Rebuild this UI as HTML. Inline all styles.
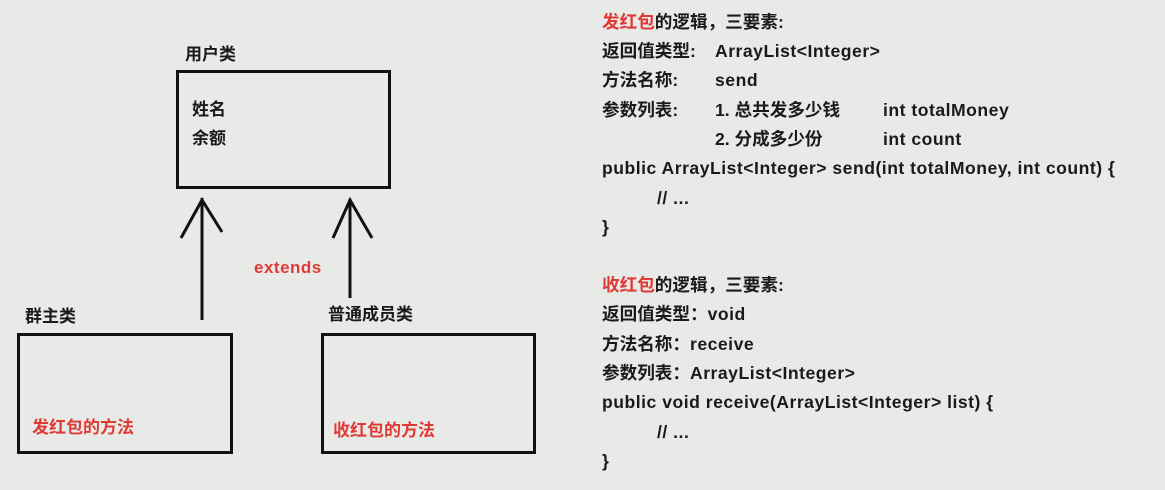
<!DOCTYPE html>
<html><head><meta charset="utf-8"><style>
body{margin:0;width:1165px;height:490px;background:#e8eae8;position:relative;overflow:hidden;font-family:"Liberation Sans","Noto Sans CJK SC",sans-serif;font-weight:bold;color:#1a1a1a}
.t{position:absolute;font-size:17px;line-height:20px;white-space:nowrap}
.R .t{font-size:17.6px}
.l{letter-spacing:0.5px}
.r{color:#e03a35}
.box{position:absolute;border:3px solid #111;box-sizing:border-box}
</style></head><body>
<div class="box" style="left:176px;top:70px;width:215px;height:119px"></div>
<div class="box" style="left:17px;top:333px;width:216px;height:121px"></div>
<div class="box" style="left:321px;top:333px;width:215px;height:121px"></div>
<svg width="1165" height="490" style="position:absolute;left:0;top:0">
<g stroke="#111" stroke-width="3" fill="none">
<path d="M202 320 V198 M181 238 L202 200 L222 232"/>
<path d="M350 298 V199 M333 238 L350 200 L372 238"/>
</g></svg>
<div class="t" style="left:185px;top:45px">用户类</div>
<div class="t" style="left:192px;top:100px">姓名</div>
<div class="t" style="left:192px;top:129px">余额</div>
<div class="t r l" style="left:254px;top:258px">extends</div>
<div class="t" style="left:25px;top:307px">群主类</div>
<div class="t" style="left:328px;top:305px">普通成员类</div>
<div class="t r" style="left:32px;top:418px">发红包的方法</div>
<div class="t r" style="left:333px;top:421px">收红包的方法</div>

<div class="R">
<div class="t" style="left:602px;top:12px"><span class="r">发红包</span>的逻辑，三要素:</div>
<div class="t" style="left:602px;top:41px">返回值类型:</div><div class="t l" style="left:715px;top:41px">ArrayList&lt;Integer&gt;</div>
<div class="t" style="left:602px;top:70px">方法名称:</div><div class="t l" style="left:715px;top:70px">send</div>
<div class="t" style="left:602px;top:100px">参数列表:</div><div class="t" style="left:715px;top:100px">1. 总共发多少钱</div><div class="t l" style="left:883px;top:100px">int totalMoney</div>
<div class="t" style="left:715px;top:129px">2. 分成多少份</div><div class="t l" style="left:883px;top:129px">int count</div>
<div class="t l" style="left:602px;top:158px">public ArrayList&lt;Integer&gt; send(int totalMoney, int count) {</div>
<div class="t l" style="left:657px;top:188px">// ...</div>
<div class="t" style="left:602px;top:217px">}</div>

<div class="t" style="left:602px;top:275px"><span class="r">收红包</span>的逻辑，三要素:</div>
<div class="t" style="left:602px;top:304px">返回值类型：<span class="l">void</span></div>
<div class="t" style="left:602px;top:334px">方法名称：<span class="l">receive</span></div>
<div class="t" style="left:602px;top:363px">参数列表：<span class="l">ArrayList&lt;Integer&gt;</span></div>
<div class="t l" style="left:602px;top:392px">public void receive(ArrayList&lt;Integer&gt; list) {</div>
<div class="t l" style="left:657px;top:422px">// ...</div>
<div class="t" style="left:602px;top:451px">}</div>
</div>
</body></html>
